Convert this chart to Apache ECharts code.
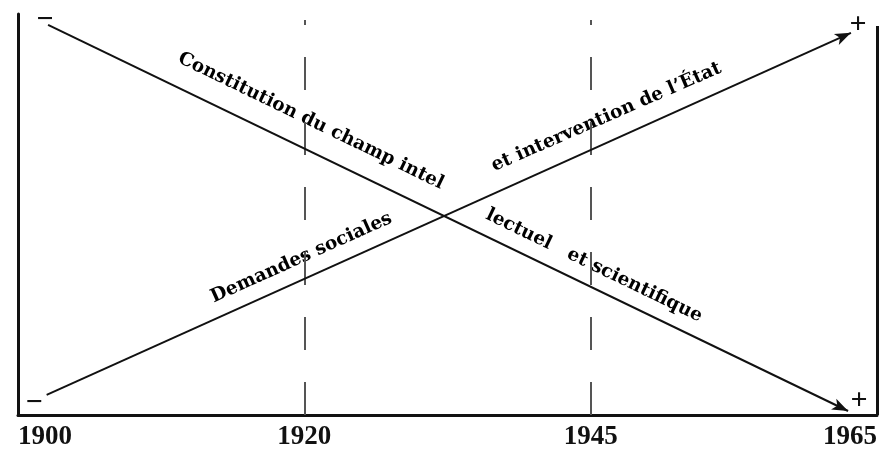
<!DOCTYPE html>
<html>
<head>
<meta charset="utf-8">
<script src="https://cdn.jsdelivr.net/npm/echarts@6/dist/echarts.min.js"></script>
<style>
  html, body { margin: 0; padding: 0; background: #fff; }
  #main { width: 882px; height: 455px; }
</style>
</head>
<body>
<div id="main"></div>
<script>
// x positions are indexes into the year labels (the scale is not linear in years)
let years = ['1900', '1920', '1945', '1965']
let dashedAt = [1, 2]

// the two crossing arrows, [x, y] with y from 0 (bottom) to 1 (top)
let demandesSociales = [[0.10, 0.05], [2.909, 0.953]]
let constitutionChamp = [[0.105, 0.973], [2.899, 0.01]]
let borderRight = [[3, 0], [3, 0.97]]

// the + / - marks at the ends of the arrows
let signTexts = ['\u2212', '+', '\u2212', '+']
let signPositions = [[0.094, 0.985], [2.934, 0.973], [0.056, 0.030], [2.937, 0.035]]

// the words written along the arrows
let wordTexts = ['Constitution du champ intel', 'lectuel   et scientifique', 'Demandes sociales', 'et intervention de l\u2019\u00c9tat']
let wordPositions = [[1.023, 0.733], [2.012, 0.372], [0.99, 0.392], [2.055, 0.743]]
let wordAngles = [-25.8, -25.8, 24.2, 23.5]

let myChart = echarts.init(document.getElementById('main'))

let ink = '#111'

let option = {
    animation: false,
    grid: { left: 18, right: 5, top: 14, bottom: 40 },
    xAxis: {
        type: 'value',
        min: 0,
        max: 3,
        interval: 1,
        splitLine: { show: false },
        axisTick: { show: false },
        axisLine: { lineStyle: { color: ink, width: 3 } },
        axisLabel: {
            formatter: v => years[v],
            fontFamily: 'Liberation Serif',
            fontWeight: 'bold',
            fontSize: 27,
            color: ink,
            margin: 9,
            alignMinLabel: 'left',
            alignMaxLabel: 'right'
        }
    },
    yAxis: {
        type: 'value',
        min: 0,
        max: 1,
        splitLine: { show: false },
        axisTick: { show: false },
        axisLabel: { show: false },
        axisLine: { show: true, lineStyle: { color: ink, width: 3 } }
    },
    series: [
        {
            type: 'scatter',
            symbolSize: 0,
            silent: true,
            itemStyle: { opacity: 1 },
            data: signPositions.map((p, i) => ({ value: p, name: signTexts[i] })),
            label: {
                show: true,
                position: 'inside',
                formatter: '{b}',
                fontFamily: 'Liberation Serif',
                fontWeight: 'bold',
                fontSize: 30,
                color: ink,
                opacity: 1
            },
            markLine: {
                silent: true,
                symbol: ['none', 'none'],
                label: { show: false },
                lineStyle: { color: '#555', width: 2, type: [33, 32] },
                data: dashedAt.map(x => [{ coord: [x, 0] }, { coord: [x, 0.985] }])
                    .concat([[
                        { coord: borderRight[0], lineStyle: { color: ink, width: 3, type: 'solid' } },
                        { coord: borderRight[1] }
                    ]])
            }
        },
        {
            type: 'scatter',
            symbolSize: 0,
            silent: true,
            itemStyle: { opacity: 1 },
            data: wordPositions.map((p, i) => ({
                value: p,
                name: wordTexts[i],
                label: { rotate: wordAngles[i] }
            })),
            label: {
                show: true,
                position: 'inside',
                formatter: '{b}',
                fontFamily: 'DejaVu Serif',
                fontWeight: 'bold',
                fontSize: 18.5,
                color: '#000',
                opacity: 1
            },
            markLine: {
                silent: true,
                symbol: ['none', 'arrow'],
                symbolSize: [9, 16],
                label: { show: false },
                lineStyle: { color: ink, width: 2, type: 'solid', opacity: 1 },
                data: [
                    [{ coord: demandesSociales[0] }, { coord: demandesSociales[1] }],
                    [{ coord: constitutionChamp[0] }, { coord: constitutionChamp[1] }]
                ]
            }
        }
    ]
}

myChart.setOption(option)
</script>
</body>
</html>
